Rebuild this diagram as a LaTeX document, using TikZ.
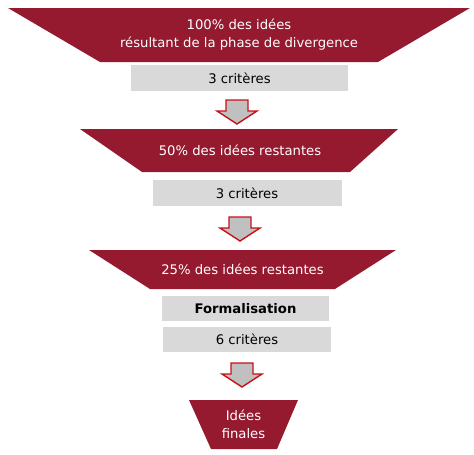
\documentclass[tikz,border=0pt]{standalone}
\usepackage{fontspec}
\setmainfont{DejaVu Sans}
\definecolor{bordeaux}{RGB}{149,25,47}
\definecolor{grisclair}{RGB}{217,217,217}
\definecolor{grisfleche}{RGB}{192,192,192}
\definecolor{rougefleche}{RGB}{200,16,24}

\begin{document}
\begin{tikzpicture}[x=1pt, y=-1pt,
  every node/.style={font=\fontsize{13.2}{18}\selectfont},
  entonnoir/.style={fill=bordeaux},
  texteblanc/.style={text=white, align=center, inner sep=0pt},
  critere/.style={fill=grisclair, inner sep=0pt},
  fleche/.pic={
    \draw[rougefleche, line width=1.4pt, fill=grisfleche, line join=miter]
      (-11,0) -- (11,0) -- (11,11) -- (20,11) -- (0,24) -- (-20,11) -- (-11,11) -- cycle;
  }]
  \useasboundingbox (0,0) rectangle (474,455);

  % etape 1
  \fill[entonnoir] (8,8) -- (470,8) -- (378,62) -- (100,62) -- cycle;
  \node[texteblanc] (etape1) at (239,35) {100\% des idées\\résultant de la phase de divergence};
  \node[critere, minimum width=217pt, minimum height=26pt] (crit1) at (239.5,78) {3 critères};
  \pic at (237,100) {fleche};

  % etape 2
  \fill[entonnoir] (80,129) -- (398,129) -- (350,172) -- (142,172) -- cycle;
  \node[texteblanc] (etape2) at (240,150.5) {50\% des idées restantes};
  \node[critere, minimum width=189pt, minimum height=26pt] (crit2) at (247,193) {3 critères};
  \pic at (240,217) {fleche};

  % etape 3
  \fill[entonnoir] (89,250) -- (396,250) -- (335,289) -- (150,289) -- cycle;
  \node[texteblanc] (etape3) at (242.5,269.5) {25\% des idées restantes};
  \node[critere, minimum width=167pt, minimum height=25pt, font=\fontsize{13.2}{18}\selectfont\bfseries]
    (formal) at (245.5,308.5) {Formalisation};
  \node[critere, minimum width=168pt, minimum height=25pt] (crit3) at (247,339.5) {6 critères};
  \pic at (242,363) {fleche};

  % resultat
  \fill[entonnoir] (189,400) -- (298,400) -- (277,449) -- (211,449) -- cycle;
  \node[texteblanc] (finales) at (243.5,424.5) {Idées\\finales};
\end{tikzpicture}
\end{document}
